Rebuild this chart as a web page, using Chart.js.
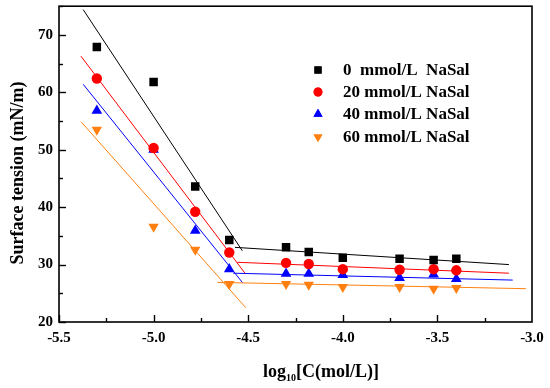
<!DOCTYPE html>
<html><head><meta charset="utf-8">
<script src="https://cdn.jsdelivr.net/npm/chart.js@4"></script>
<style>html,body{margin:0;padding:0;background:#fff}#wrap{width:550px;height:388px}</style>
</head><body><div id="wrap"><canvas id="c" width="550" height="388"></canvas></div>
<script>
const logC = [-5.30, -5.00, -4.78, -4.60, -4.30, -4.18, -4.00, -3.70, -3.52, -3.40];
const st0  = [67.9, 61.8, 43.6, 34.3, 33.0, 32.2, 31.2, 31.0, 30.8, 31.0];
const st20 = [62.4, 50.3, 39.2, 32.1, 30.3, 30.1, 29.2, 29.1, 29.2, 29.0];
const st40 = [56.8, 50.0, 35.9, 29.2, 28.4, 28.4, 28.2, 27.7, 28.3, 27.5];
const st60 = [53.5, 36.6, 32.6, 26.6, 26.6, 26.5, 26.1, 26.1, 25.8, 25.9];
const seriesNames = ["0  mmol/L  NaSal", "20 mmol/L NaSal", "40 mmol/L NaSal", "60 mmol/L NaSal"];
// fitted line endpoints [x, y]
const fit0Steep  = [[-5.372, 74.4], [-4.531, 32.4]];
const fit0Flat   = [[-4.570, 33.0], [-3.122, 30.0]];
const fit20Steep = [[-5.384, 66.3], [-4.517, 28.5]];
const fit20Flat  = [[-4.558, 30.4], [-3.122, 28.5]];
const fit40Steep = [[-5.372, 61.4], [-4.531, 26.9]];
const fit40Flat  = [[-4.579, 28.5], [-3.102, 27.3]];
const fit60Steep = [[-5.384, 54.9], [-4.513, 22.5]];
const fit60Flat  = [[-4.663, 26.9], [-3.032, 25.8]];
const xTicks = [-5.5, -5.0, -4.5, -4.0, -3.5, -3.0];
const yTicks = [20, 30, 40, 50, 60, 70];

const colors = ["#000000", "#ff0000", "#0000ff", "#ff8010"];
const FONT = "'Liberation Serif', 'Times New Roman', serif";

function pts(xs, ys){ return xs.map((x,i)=>({x:x, y:ys[i]})); }
function line(p, c){ return {type:'line', data:p.map(a=>({x:a[0],y:a[1]})), borderColor:c, borderWidth:1, pointRadius:0, showLine:true, fill:false, isFit:true}; }

const pointSets = [
  {data:pts(logC, st0),  backgroundColor:colors[0], borderColor:colors[0], pointStyle:'rect', pointRadius:6.0, pointRotation:0},
  {data:pts(logC, st20), backgroundColor:colors[1], borderColor:colors[1], pointStyle:'circle', pointRadius:5.2, pointRotation:0},
  {data:pts(logC, st40), backgroundColor:colors[2], borderColor:colors[2], pointStyle:'triangle', pointRadius:6.2, pointRotation:0},
  {data:pts(logC, st60), backgroundColor:colors[3], borderColor:colors[3], pointStyle:'triangle', pointRadius:6.0, pointRotation:180},
];
pointSets.forEach((d,i)=>{ d.label = seriesNames[i]; d.showLine=false; d.borderWidth=0; d.pointHoverRadius=d.pointRadius; });

const datasets = [
  line(fit0Steep, colors[0]), line(fit0Flat, colors[0]),
  line(fit20Steep, colors[1]), line(fit20Flat, colors[1]),
  line(fit40Steep, colors[2]), line(fit40Flat, colors[2]),
  line(fit60Steep, colors[3]), line(fit60Flat, colors[3]),
  ...pointSets
];

const deco = {
  id:'deco',
  afterDraw(chart){
    const ctx = chart.ctx, a = chart.chartArea, xs = chart.scales.x, ys = chart.scales.y;
    ctx.save();
    // frame
    ctx.strokeStyle = '#000'; ctx.lineWidth = 1.6;
    ctx.strokeRect(a.left, a.top, a.right - a.left, a.bottom - a.top);
    // inward ticks
    ctx.lineWidth = 1.4;
    for (let v = -5.5; v <= -3.0001; v += 0.25) {
      const px = Math.round(xs.getPixelForValue(v)) + 0.5;
      const major = Math.abs(v*2 - Math.round(v*2)) < 1e-6;
      ctx.beginPath(); ctx.moveTo(px, a.bottom); ctx.lineTo(px, a.bottom - (major ? 7 : 4)); ctx.stroke();
    }
    for (let v = 20; v <= 75; v += 5) {
      const py = Math.round(ys.getPixelForValue(v)) + 0.5;
      const major = v % 10 === 0;
      ctx.beginPath(); ctx.moveTo(a.left, py); ctx.lineTo(a.left + (major ? 7 : 4), py); ctx.stroke();
    }
    // tick labels
    ctx.fillStyle = '#000';
    ctx.font = 'bold 15px ' + FONT;
    ctx.textAlign = 'center'; ctx.textBaseline = 'middle';
    xTicks.forEach(v => ctx.fillText(v.toFixed(1), xs.getPixelForValue(v), a.bottom + 16));
    ctx.textAlign = 'right';
    yTicks.forEach(v => ctx.fillText(String(v), a.left - 6, ys.getPixelForValue(v)));
    // y title
    ctx.save();
    ctx.translate(18, 173);
    ctx.rotate(-Math.PI / 2);
    ctx.textAlign = 'center'; ctx.textBaseline = 'middle';
    ctx.font = 'bold 18px ' + FONT;
    ctx.fillText('Surface tension (mN/m)', 0, 0);
    ctx.restore();
    // x title with subscript
    const big = 'bold 18px ' + FONT, small = 'bold 10px ' + FONT;
    ctx.textAlign = 'left'; ctx.textBaseline = 'alphabetic';
    ctx.font = big; const w1 = ctx.measureText('log').width, w3 = ctx.measureText('[C(mol/L)]').width;
    ctx.font = small; const w2 = ctx.measureText('10').width;
    const total = w1 + w2 + w3;
    let x0 = 321 - total / 2; const base = 377;
    ctx.font = big; ctx.fillText('log', x0, base);
    ctx.font = small; ctx.fillText('10', x0 + w1, base + 4);
    ctx.font = big; ctx.fillText('[C(mol/L)]', x0 + w1 + w2, base);
    // legend
    const lx = 318, tx = 343, rows = [70, 92, 114, 137];
    ctx.font = 'bold 17px ' + FONT; ctx.textBaseline = 'middle'; ctx.textAlign = 'left';
    pointSets.forEach((d, i) => {
      ctx.fillStyle = d.backgroundColor; ctx.strokeStyle = d.borderColor;
      Chart.helpers.drawPoint(ctx, {pointStyle: d.pointStyle, radius: d.pointRadius * 0.85, rotation: d.pointRotation, borderWidth: 0}, lx, rows[i]);
      ctx.fill();
      ctx.fillStyle = '#000';
      ctx.fillText(d.label, tx, rows[i] + 1);
    });
    ctx.restore();
  }
};

new Chart(document.getElementById('c'), {
  type: 'scatter',
  data: { datasets },
  options: {
    responsive: false, animation: false, devicePixelRatio: 1,
    layout: { padding: { top: 6, right: 18, left: 0, bottom: 0 } },
    plugins: { legend: { display: false }, tooltip: { enabled: false } },
    elements: { line: { tension: 0 } },
    scales: {
      x: { type: 'linear', min: -5.5, max: -3.0,
           grid: { display: false, drawTicks: false }, border: { display: false },
           ticks: { display: false },
           afterFit(s){ s.height = 66; } },
      y: { type: 'linear', min: 20, max: 75,
           grid: { display: false, drawTicks: false }, border: { display: false },
           ticks: { display: false },
           afterFit(s){ s.width = 59; } }
    }
  },
  plugins: [deco]
});
</script>
</body></html>
